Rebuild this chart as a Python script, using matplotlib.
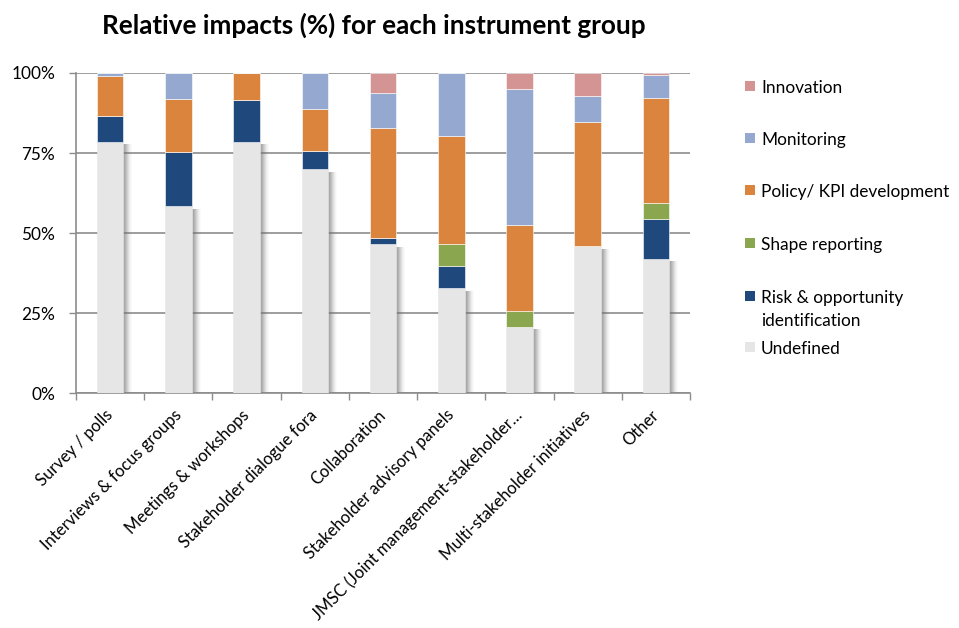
import matplotlib
matplotlib.use('Agg')
import matplotlib.pyplot as plt
import matplotlib.transforms as mtransforms
from matplotlib.patches import Rectangle
import numpy as np

plt.rcParams['font.family'] = ['Lato', 'DejaVu Sans']

categories = ['Survey / polls', 'Interviews & focus groups', 'Meetings & workshops',
              'Stakeholder dialogue fora', 'Collaboration', 'Stakeholder advisory panels',
              'JMSC (Joint management-stakeholder\u2026', 'Multi-stakeholder initiatives', 'Other']

# stacked shares (%) from bottom to top
undefined = [78.5, 58.4, 78.5, 69.9, 46.5, 32.7, 20.7, 45.8, 42.0]
risk = [8.2, 16.8, 13.1, 5.8, 2.0, 7.1, 0.0, 0.0, 12.5]
shape = [0.0, 0.0, 0.0, 0.0, 0.0, 6.7, 5.0, 0.0, 5.0]
policy = [12.3, 16.6, 8.4, 13.1, 34.4, 33.7, 26.7, 38.8, 32.6]
monitoring = [1.0, 8.2, 0.0, 11.2, 10.8, 19.8, 42.5, 8.1, 7.4]
innovation = [0.0, 0.0, 0.0, 0.0, 6.3, 0.0, 5.1, 7.3, 0.5]

series = [('Undefined', undefined, '#e6e6e6'),
          ('Risk & opportunity\nidentification', risk, '#1f497d'),
          ('Shape reporting', shape, '#8aa64e'),
          ('Policy/ KPI development', policy, '#da843e'),
          ('Monitoring', monitoring, '#95a9d0'),
          ('Innovation', innovation, '#d59494')]

fig = plt.figure(figsize=(9.59, 6.28), dpi=100)
ax = fig.add_axes([0.0793, 0.374, 0.6402, 0.5098])

x = np.arange(len(categories))
w = 0.39

# soft shadow on the right of the "Undefined" bars (Excel style)
und = np.array(undefined)
px = 1 / 68.2
shade = [0.55, 0.62, 0.6, 0.52, 0.42, 0.32, 0.22, 0.13, 0.07, 0.03]
for k, a in enumerate(shade):
    ax.bar(x + w / 2 - px + k * px, und - 0.8, width=px, bottom=0,
           color='#707070', alpha=a, align='edge', zorder=2, linewidth=0)

bottom = np.zeros(len(categories))
for name, vals, col in series:
    v = np.array(vals)
    ax.bar(x, v, width=w, bottom=bottom, color=col, zorder=3,
           edgecolor='white' if name != 'Undefined' else col, linewidth=0.4)
    bottom += v

ax.set_xlim(-0.5, len(categories) - 0.5)
ax.set_ylim(0, 100)
ax.set_yticks([0, 25, 50, 75, 100])
ax.set_yticklabels(['0%', '25%', '50%', '75%', '100%'], fontsize=12.4)
ax.yaxis.grid(True, color='#8c8c8c', linewidth=1.2, zorder=0)
ax.set_axisbelow(True)

ax.set_xticks(np.arange(len(categories) + 1) - 0.5, minor=False)
ax.set_xticklabels([])
ax.set_xticks(x, minor=True)
ax.set_xticklabels(categories, minor=True, rotation=45, ha='right', fontsize=12)
ax.tick_params(axis='x', which='minor', length=0, pad=10)
ax.tick_params(axis='x', which='major', length=5, color='#8c8c8c', width=1)
ax.tick_params(axis='y', length=5, color='#8c8c8c', width=1, pad=10)
shift = mtransforms.ScaledTranslation(0.06, 0, fig.dpi_scale_trans)
for lab in ax.get_xticklabels(minor=True):
    lab.set_transform(lab.get_transform() + shift)

for s in ['top', 'right']:
    ax.spines[s].set_visible(False)
for s in ['left', 'bottom']:
    ax.spines[s].set_color('#8c8c8c')
    ax.spines[s].set_linewidth(1.2)

fig.text(0.39, 0.960, 'Relative impacts (%) for each instrument group',
         ha='center', va='center', fontsize=18.8, fontweight='bold')

# legend, top entry first
leg_y = [86, 138, 190, 243, 296, 347]
for (name, vals, col), yy in zip(series[::-1], leg_y):
    fy = 1 - yy / 628
    fig.patches.append(Rectangle((745 / 959, fy - 5 / 628), 10 / 959, 10 / 628,
                                 transform=fig.transFigure, facecolor=col, edgecolor='none'))
    fig.text(761 / 959, fy + 6 / 628, name, ha='left', va='top', fontsize=12.4,
             linespacing=1.5)

fig.savefig('out.png', dpi=100)
